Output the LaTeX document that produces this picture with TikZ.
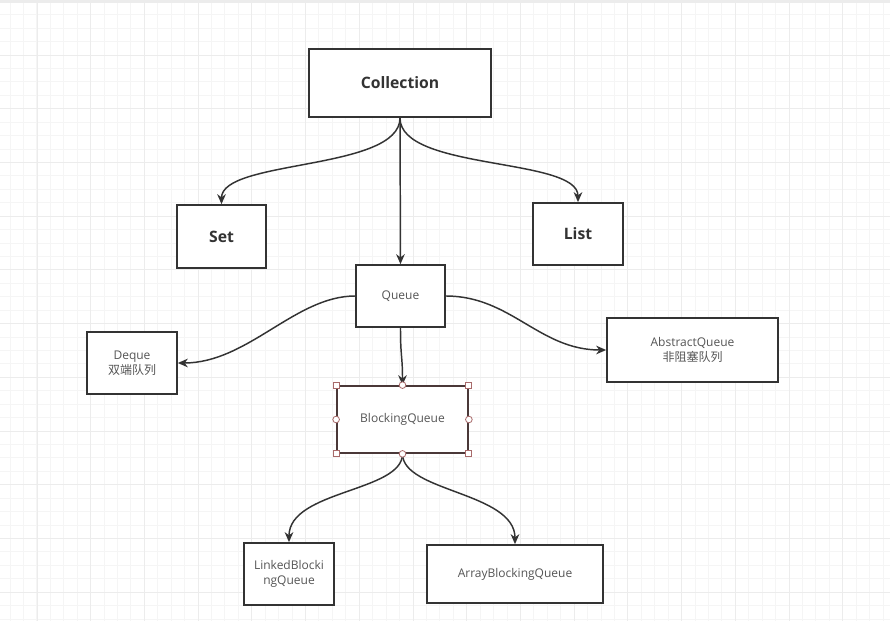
\documentclass[tikz,border=0pt]{standalone}
\usepackage{fontspec}
\setmainfont{Open Sans}
\newfontfamily\cjk{Noto Sans CJK SC}
\usetikzlibrary{arrows.meta}
\definecolor{gridminor}{HTML}{F5F5F5}
\definecolor{gridmajor}{HTML}{ECECEC}
\definecolor{edgecol}{HTML}{333333}
\definecolor{txt}{HTML}{555555}
\definecolor{handle}{HTML}{A86A6A}
\definecolor{selborder}{HTML}{4A3838}
\tikzset{
  box/.style={draw=edgecol, line width=1.3pt, fill=white, inner sep=2pt,
    align=center, text=txt, font=\fontsize{9}{11.2}\selectfont},
  boldbox/.style={box, text=edgecol, font=\bfseries\fontsize{11.8}{14}\selectfont},
  link/.style={draw=edgecol, line width=1.1pt, -{Stealth[length=7.5pt,width=6.5pt]}},
  sqhandle/.style={draw=handle, fill=white, line width=0.6pt, minimum size=4.5pt, inner sep=0pt},
  rdhandle/.style={draw=handle, fill=white, line width=0.6pt, circle, minimum size=5pt, inner sep=0pt}
}
\begin{document}
\begin{tikzpicture}[x=0.75pt, y=-0.75pt]
\useasboundingbox (0,0) rectangle (890,621);
\fill[white] (0,0) rectangle (890,621);
% background grid
\foreach \i in {0,...,65} {
  \pgfmathsetmacro\xx{10.1+13.43*\i}
  \draw[gridminor, line width=0.75pt] (\xx,0) -- (\xx,621);
}
\foreach \j in {0,...,46} {
  \pgfmathsetmacro\yy{1.3+13.43*\j}
  \draw[gridminor, line width=0.75pt] (0,\yy) -- (890,\yy);
}
\foreach \i in {0,...,16} {
  \pgfmathsetmacro\xx{37+53.72*\i}
  \draw[gridmajor, line width=0.75pt] (\xx,0) -- (\xx,621);
}
\foreach \j in {0,...,11} {
  \pgfmathsetmacro\yy{1.3+53.72*\j}
  \draw[gridmajor, line width=0.75pt] (0,\yy) -- (890,\yy);
}
\fill[gridmajor] (0,0) rectangle (890,3);

% class boxes
\node[boldbox, minimum width=136.5pt, minimum height=51pt] (coll) at (400,83) {Collection};
\node[boldbox, minimum width=66.75pt, minimum height=47.25pt] (set) at (221.5,236.5) {Set};
\node[boldbox, minimum width=67.5pt, minimum height=46.5pt] (list) at (578,234) {List};
\node[box, minimum width=66.75pt, minimum height=46.5pt] (queue) at (400.5,296) {Queue};
\node[box, minimum width=67.5pt, minimum height=46.5pt] (deque) at (132,363) {Deque\\{\cjk 双端队列}};
\node[box, minimum width=128.25pt, minimum height=48pt] (abq) at (692.5,350) {AbstractQueue\\{\cjk 非阻塞队列}};
\node[box, draw=selborder, minimum width=98.25pt, minimum height=50.25pt] (bq) at (402.5,419.5) {BlockingQueue};
\node[box, minimum width=67.5pt, minimum height=46.5pt] (lbq) at (289,574) {LinkedBlocki\\ngQueue};
\node[box, minimum width=132pt, minimum height=43.5pt] (arq) at (515,574) {ArrayBlockingQueue};

% connectors
\draw[link] (coll.south) .. controls +(0,53) and +(0,-45) .. (set.north);
\draw[link] (coll.south) .. controls +(0,53) and +(0,-45) .. (list.north);
\draw[link] (coll.south) -- (queue.north);
\draw[link] (queue.west) .. controls +(-60,0) and +(70,0) .. (deque.east);
\draw[link] (queue.east) .. controls +(65,0) and +(-67,0) .. (abq.west);
\draw[link] (queue.south) .. controls +(0,30) and +(0,-30) .. (bq.north);
\draw[link] (bq.south) .. controls +(0,38) and +(0,-52) .. (lbq.north);
\draw[link] (bq.south) .. controls +(0,38) and +(0,-52) .. (arq.north);

% selection handles on BlockingQueue
\foreach \a in {north west, north east, south west, south east}
  \node[sqhandle] at (bq.\a) {};
\foreach \a in {north, south, west, east}
  \node[rdhandle] at (bq.\a) {};
\end{tikzpicture}
\end{document}
